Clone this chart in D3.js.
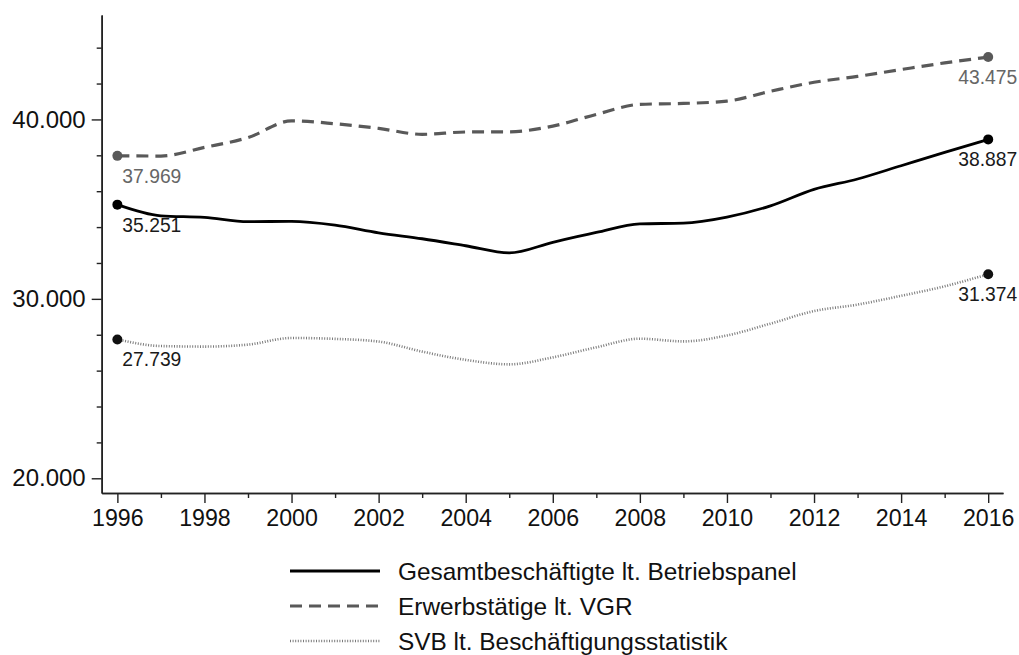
<!DOCTYPE html>
<html lang="de">
<head>
<meta charset="utf-8">
<title>Beschäftigte 1996-2016</title>
<script src="https://d3js.org/d3.v7.min.js"></script>
<style>
body { margin: 0; background: #fff; }
text { font-family: "Liberation Sans", Arial, sans-serif; }
</style>
</head>
<body>
<div id="chart"></div>
<script>
var w = 1019;
var h = 655;

// data
var years = d3.range(1996, 2017);
var gesamt = [35251, 34630, 34540, 34300, 34320, 34110, 33680, 33350, 32960, 32560, 33150, 33700, 34180, 34220, 34560, 35180, 36100, 36680, 37420, 38160, 38887];
var erwerb = [37969, 37960, 38440, 38990, 39920, 39760, 39500, 39170, 39300, 39310, 39630, 40280, 40840, 40890, 41020, 41570, 42070, 42400, 42780, 43150, 43475];
var svb = [27739, 27370, 27340, 27450, 27820, 27770, 27620, 27060, 26600, 26350, 26740, 27300, 27780, 27630, 27960, 28620, 29320, 29680, 30170, 30700, 31374];

var seriesNames = ["Gesamtbeschäftigte lt. Betriebspanel", "Erwerbstätige lt. VGR", "SVB lt. Beschäftigungsstatistik"];
var majorYears = d3.range(1996, 2017, 2);
var minorYears = d3.range(1997, 2016, 2);
var yMajor = [20000, 30000, 40000];
var yMinor = [22000, 24000, 26000, 28000, 32000, 34000, 36000, 38000, 42000, 44000];

var fmt = function(v){ return d3.format(",")(v).replace(/,/g, "."); };

var styles = [
  {line: "#000", dot: "#000", label: "#1a1a1a", width: 2.8, dash: null},
  {line: "#595959", dot: "#595959", label: "#666", width: 3.2, dash: "12,7"},
  {line: "#7a7a7a", dot: "#111", label: "#1a1a1a", width: 2.6, dash: "1,1.6"}
];
var allSeries = [gesamt, erwerb, svb];

var svg = d3.select("#chart").append("svg")
  .attr("width", w)
  .attr("height", h);

var x = d3.scaleLinear().domain([1995.64, 2016.34]).range([101.7, 1003]);
var y = d3.scaleLinear().domain([19180, 45820]).range([493, 15]);

// axes
var yAxis = d3.axisLeft(y).tickValues(yMajor).tickFormat(fmt).tickSize(10).tickPadding(6).tickSizeOuter(0);
var yAxisMinor = d3.axisLeft(y).tickValues(yMinor).tickFormat("").tickSize(5).tickSizeOuter(0);
var xAxis = d3.axisBottom(x).tickValues(majorYears).tickFormat(d3.format("d")).tickSize(10).tickPadding(7).tickSizeOuter(0);
var xAxisMinor = d3.axisBottom(x).tickValues(minorYears).tickFormat("").tickSize(5).tickSizeOuter(0);

svg.append("g").attr("transform", "translate(101.7,0)").call(yAxisMinor);
var gy = svg.append("g").attr("transform", "translate(101.7,0)").call(yAxis);
svg.append("g").attr("transform", "translate(0,493)").call(xAxisMinor);
var gx = svg.append("g").attr("transform", "translate(0,493)").call(xAxis);

svg.selectAll(".domain").attr("stroke", "#222").attr("stroke-width", 1.6);
svg.selectAll(".tick line").attr("stroke", "#222").attr("stroke-width", 1.4);
svg.selectAll(".tick text")
  .attr("font-family", "Liberation Sans, Arial, sans-serif")
  .attr("fill", "#111");
gy.selectAll(".tick text").attr("font-size", 24);
gx.selectAll(".tick text").attr("font-size", 23.2);

// lines
var line = d3.line()
  .x(function(d, i){ return x(years[i]); })
  .y(function(d){ return y(d); })
  .curve(d3.curveMonotoneX);

allSeries.forEach(function(s, k){
  var st = styles[k];
  svg.append("path")
    .attr("d", line(s))
    .attr("fill", "none")
    .attr("stroke", st.line)
    .attr("stroke-width", st.width)
    .attr("stroke-dasharray", st.dash);

  var ends = [0, s.length - 1];
  ends.forEach(function(i){
    svg.append("circle")
      .attr("cx", x(years[i]))
      .attr("cy", y(s[i]))
      .attr("r", 5)
      .attr("fill", st.dot);
    svg.append("text")
      .attr("x", i === 0 ? x(years[i]) + 5 : x(years[i]) + 29)
      .attr("y", y(s[i]) + 27)
      .attr("text-anchor", i === 0 ? "start" : "end")
      .attr("font-size", 19.3)
      .attr("fill", st.label)
      .text(fmt(s[i]));
  });
});

// legend
var legend = svg.append("g");
seriesNames.forEach(function(name, k){
  var st = styles[k];
  var ly = 571 + k * 35;
  legend.append("line")
    .attr("x1", 290).attr("x2", 380)
    .attr("y1", ly).attr("y2", ly)
    .attr("stroke", st.line)
    .attr("stroke-width", st.width)
    .attr("stroke-dasharray", st.dash);
  legend.append("text")
    .attr("x", 398)
    .attr("y", ly + 8.5)
    .attr("font-size", 24.4)
    .attr("fill", "#111")
    .text(name);
});
</script>
</body>
</html>
